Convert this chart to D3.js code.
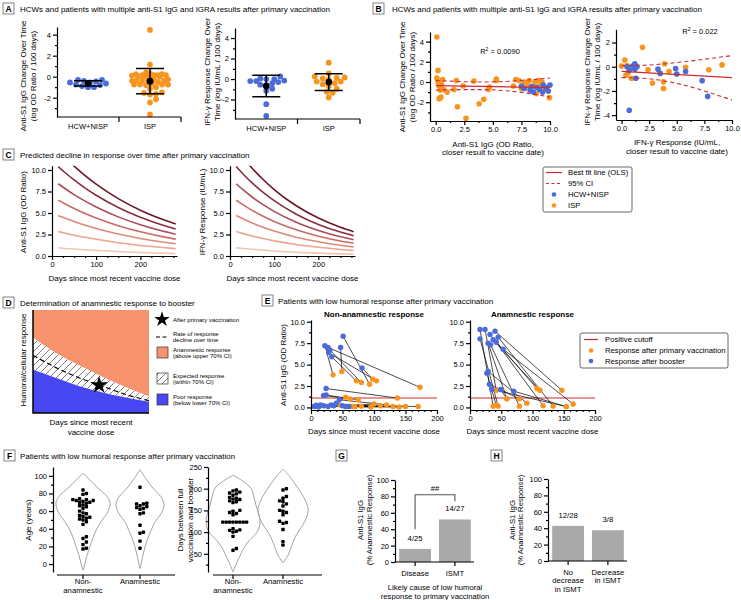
<!DOCTYPE html>
<html><head><meta charset="utf-8">
<script src="https://cdn.jsdelivr.net/npm/d3@7"></script>
<style>
body{margin:0;background:#fff;}
svg text{font-family:"Liberation Sans",Arial,Helvetica,sans-serif;fill:#000;}
</style></head><body>
<svg id="fig" width="741" height="600"></svg>
<script>
// ================= DATA =================
const groupsA = ["HCW+NISP", "ISP"];
// Panel B1 : anti-S1 IgG (OD ratio) vs change over time (log OD ratio / 100 days)
const b1HcwX = [7.5, 7.75, 8.25, 8.4, 8.55, 8.85, 9.1, 9.4, 9.65, 9.85, 10.0, 9.35];
const b1HcwY = [-0.4, -0.65, -0.8, -0.45, -1.0, -0.55, -0.75, -0.3, -0.55, -0.9, -0.3, -1.0];
const b1IspX = [0.1, 0.2, 0.1, 0.2, 0.3, 0.4, 0.3, 0.45, 0.6, 0.7, 0.5, 1.0, 1.6, 1.8, 1.9, 2.4, 2.65, 3.35, 3.8, 4.2, 4.6, 4.7, 5.3, 5.3, 6.8, 7.0, 7.3, 7.5, 7.75, 8.0, 8.2, 8.55, 8.7, 9.0, 9.1, 9.3, 9.6, 9.95, 8.8];
const b1IspY = [4.45, 1.15, 0.4, 0.0, -0.4, -0.8, -1.65, -1.5, 0.25, -0.75, -0.25, -1.0, -0.75, 0.15, -2.45, -0.4, -3.6, 0.1, -2.15, -1.7, -0.75, -0.5, 0.3, 0.15, -0.4, 0.25, 0.15, -0.65, 0.0, -0.3, 0.15, -0.4, 0.0, 0.15, -0.4, 0.0, -0.75, -1.55, -1.15];
const b1FitX = [0, 10], b1FitY = [-0.35, -0.55];
const ciX = [0, 2, 4, 6, 8, 10];
const b1CiUp = [0.15, 0.05, 0.0, 0.05, 0.2, 0.4];
const b1CiLo = [-0.8, -0.75, -0.75, -0.85, -1.1, -1.5];
const b1R2 = "0.0090";
// Panel B2 : IFN-γ response vs change over time (log IU/mL / 100 days)
const b2HcwX = [0.5, 0.7, 1.0, 1.2, 1.2, 1.4, 1.3, 0.7, 3.3, 3.5, 4.9, 5.0, 5.8, 7.3, 7.8];
const b2HcwY = [0.0, -0.3, 0.05, -0.2, 0.25, 0.0, -0.95, -3.6, -0.2, -0.55, -0.15, -0.6, -0.4, -1.15, -2.45];
const b2IspX = [0.0, 0.3, 0.6, 0.4, 0.9, 1.9, 2.4, 2.8, 3.8, 3.8, 3.9, 4.3, 5.8, 7.9, 9.1, 0.5];
const b2IspY = [0.05, 0.55, -0.5, -0.7, -0.95, 1.6, -0.25, -1.35, -1.25, -1.8, 0.25, -0.4, -0.05, -0.25, 0.15, 0.1];
const b2FitX = [0, 10], b2FitY = [-0.38, -0.9];
const b2CiUp = [0.1, 0.12, 0.25, 0.45, 0.68, 0.92];
const b2CiLo = [-0.9, -0.95, -1.2, -1.6, -2.15, -2.75];
const b2R2 = "0.022";
// Panel C : predicted decline curves (value at each day)
const cDays = [14, 30, 50, 75, 100, 150, 200, 250, 280];
const cIgG = [
  [0.95, 0.88, 0.81, 0.72, 0.65, 0.52, 0.41, 0.33, 0.29],
  [2.85, 2.65, 2.42, 2.17, 1.94, 1.54, 1.23, 0.99, 0.86],
  [4.70, 4.38, 4.00, 3.57, 3.19, 2.55, 2.04, 1.63, 1.42],
  [6.50, 6.05, 5.53, 4.94, 4.41, 3.52, 2.81, 2.25, 1.96],
  [8.40, 7.82, 7.14, 6.38, 5.70, 4.55, 3.64, 2.91, 2.54],
  [10.40, 9.68, 8.84, 7.90, 7.06, 5.64, 4.50, 3.60, 3.14],
  [12.30, 11.45, 10.46, 9.35, 8.35, 6.67, 5.33, 4.26, 3.71]
];
const cIfn = [
  [0.95, 0.87, 0.78, 0.68, 0.59, 0.44, 0.34, 0.25, 0.21],
  [2.85, 2.60, 2.33, 2.03, 1.76, 1.33, 1.01, 0.76, 0.64],
  [4.70, 4.30, 3.84, 3.34, 2.90, 2.19, 1.66, 1.25, 1.06],
  [6.50, 5.94, 5.31, 4.62, 4.02, 3.04, 2.29, 1.74, 1.47],
  [8.40, 7.68, 6.86, 5.97, 5.19, 3.92, 2.97, 2.24, 1.90],
  [10.40, 9.51, 8.50, 7.39, 6.43, 4.86, 3.67, 2.78, 2.35],
  [12.50, 11.43, 10.21, 8.89, 7.73, 5.84, 4.41, 3.34, 2.83]
];
const cColors = ["#f3c6b1", "#eda58d", "#e08878", "#cb6a66", "#ad4b56", "#8a2d3e", "#6a1828"];
// Panel D : schematic (unitless)
const dX = [0, 20, 40, 60, 80, 100];
const dUpper = [73, 58, 46, 35, 25, 16];
const dMid = [56, 44, 34, 26, 18, 12];
const dLower = [42, 34, 26, 20, 15, 11];
const dStar = [57, 27];
// Panel E : pairs (booster day/value -> primary day/value)
const eNonBoostDay = [22, 27, 28, 33, 30, 47, 51, 81, 24, 20, 24, 5, 10, 15, 20, 27, 32, 36, 40, 45, 50, 55, 12, 60, 8];
const eNonBoostVal = [7.2, 7.0, 6.4, 5.9, 6.7, 7.0, 8.3, 4.6, 2.2, 1.4, 1.45, 0.1, 0.2, 0.3, 0.2, 0.1, 0.3, 0.2, 0.5, 0.9, 0.2, 0.1, 0.05, 0.1, 0.25];
const eNonPrimDay = [35, 173, 104, 72, 80, 49, 93, 98, 137, 75, 62, 45, 60, 110, 80, 150, 170, 95, 55, 120, 65, 130, 100, 140, 70];
const eNonPrimVal = [3.8, 2.35, 3.1, 3.1, 2.9, 4.2, 2.7, 3.3, 1.1, 0.9, 1.0, 0.3, 0.1, 0.2, 0.15, 0.1, 0.1, 0.05, 1.2, 0.3, 0.1, 0.1, 0.4, 0.05, 0.1];
const eAnBoostDay = [16, 24, 16, 32, 40, 37, 45, 42, 29, 33, 53, 27, 29, 31, 35, 49, 70];
const eAnBoostVal = [9.1, 9.1, 8.0, 8.5, 8.9, 7.9, 8.2, 7.6, 7.5, 7.3, 6.8, 4.0, 4.2, 2.7, 2.1, 2.1, 1.9];
const eAnPrimDay = [37, 42, 45, 107, 147, 112, 133, 117, 59, 79, 165, 42, 91, 79, 154, 59, 154];
const eAnPrimVal = [0.15, 2.0, 0.15, 2.2, 2.0, 2.0, 0.15, 0.2, 1.0, 0.15, 0.4, 0.25, 0.5, 1.0, 0.1, 1.0, 0.1];
const eCutoff = 1.1;
// Panel F
const fGroups = ["Non-anamnestic", "Anamnestic"];
const fNonAge = [84, 80, 79, 74, 73, 73, 72, 72, 71, 70, 70, 69, 67, 66, 65, 63, 60, 58, 57, 55, 54, 53, 52, 51, 50, 48, 45, 31, 29, 25, 22, 18, 17];
const fAnAge = [87, 69, 68, 68, 66, 65, 64, 63, 62, 58, 57, 44, 36, 35, 26, 18];
const fNonDays = [197, 195, 192, 190, 188, 185, 180, 178, 176, 175, 172, 170, 168, 150, 148, 145, 143, 140, 123, 123, 123, 123, 123, 123, 123, 123, 108, 105, 104, 102, 100, 90, 62, 58];
const fAnDays = [200, 197, 182, 178, 172, 170, 165, 160, 150, 148, 145, 140, 125, 122, 120, 106, 78, 70];
const vNonAgeV = [103, 95, 86, 78, 70, 60, 48, 38, 30, 20, 10, 0, -7];
const vNonAgeD = [0, .26, .56, .85, 1, .93, .67, .48, .37, .26, .15, .07, 0];
const vAnAgeV = [107, 98, 86, 76, 67, 57, 48, 38, 30, 20, 10, 0, -5];
const vAnAgeD = [0, .19, .48, .78, .89, .78, .56, .41, .30, .19, .11, .04, 0];
const vNonDaysV = [231, 220, 201, 180, 162, 140, 120, 100, 80, 60, 45, 25, 8];
const vNonDaysD = [0, .30, .67, .78, .85, .96, 1, .89, .59, .37, .26, .11, 0];
const vAnDaysV = [245, 230, 201, 175, 150, 125, 100, 87, 65, 47, 29];
const vAnDaysD = [0, .22, .56, .81, .93, .81, .56, .44, .30, .19, 0];
// Panel G / H
const gCats = ["Disease", "ISMT"], gVals = [16, 51.85], gLabels = ["4/25", "14/27"];
const hCats = ["No decrease in ISMT", "Decrease in ISMT"], hVals = [42.86, 37.5], hLabels = ["12/28", "3/8"];

// ================= HELPERS =================
const svg = d3.select("#fig");
const BLUE = "#4a6bd8", ORANGE = "#f7941d", RED = "#cf2a2f";
const defs = svg.append("defs");
const hatch = defs.append("pattern").attr("id", "hatch").attr("patternUnits", "userSpaceOnUse").attr("width", 7).attr("height", 7);
hatch.append("rect").attr("width", 7).attr("height", 7).attr("fill", "#fff");
hatch.append("path").attr("d", "M0,7 L7,0 M-1,1 L1,-1 M6,8 L8,6").attr("stroke", "#222").attr("stroke-width", 0.6);

function txt(g, x, y, s, o = {}) {
  const t = g.append("text").attr("x", x).attr("y", y).text(s)
    .attr("font-size", o.size || 8).attr("text-anchor", o.anchor || "start");
  if (o.weight) t.attr("font-weight", o.weight);
  return t;
}
function multi(g, x, y, lines, lh, o = {}) {
  const t = g.append("text").attr("font-size", o.size || 8).attr("text-anchor", o.anchor || "middle");
  if (o.rotate) t.attr("transform", `translate(${x},${y}) rotate(-90)`);
  else t.attr("transform", `translate(${x},${y})`);
  lines.forEach((l, i) => t.append("tspan").attr("x", 0).attr("dy", i ? lh : 0).text(l));
  return t;
}
function panelLabel(letter, x, y, title, tx) {
  svg.append("rect").attr("x", x).attr("y", y).attr("width", 11).attr("height", 11)
    .attr("fill", "#fff").attr("stroke", "#777").attr("stroke-width", 0.9);
  txt(svg, x + 5.5, y + 8.8, letter, { anchor: "middle", weight: "bold", size: 8.5 });
  if (title) txt(svg, tx, y + 8.5, title, { size: 8 });
}
function styleAxis(a) {
  a.selectAll(".domain, line").attr("stroke", "#000").attr("stroke-width", 1.2);
  a.selectAll("text").attr("font-size", 7.5).attr("fill", "#000");
}
function leftAxis(g, scale, x, major, minor, fmt) {
  const a = g.append("g").attr("transform", `translate(${x},0)`)
    .call(d3.axisLeft(scale).tickValues(major).tickFormat(fmt).tickSize(4).tickSizeOuter(0).tickPadding(2));
  styleAxis(a);
  if (minor) {
    const m = g.append("g").attr("transform", `translate(${x},0)`)
      .call(d3.axisLeft(scale).tickValues(minor).tickFormat("").tickSize(2).tickSizeOuter(0));
    m.select(".domain").remove(); styleAxis(m);
  }
  return a;
}
function bottomAxis(g, scale, y, major, minor, fmt) {
  const a = g.append("g").attr("transform", `translate(0,${y})`)
    .call(d3.axisBottom(scale).tickValues(major).tickFormat(fmt).tickSize(4).tickSizeOuter(0).tickPadding(2));
  styleAxis(a);
  if (minor) {
    const m = g.append("g").attr("transform", `translate(0,${y})`)
      .call(d3.axisBottom(scale).tickValues(minor).tickFormat("").tickSize(2).tickSizeOuter(0));
    m.select(".domain").remove(); styleAxis(m);
  }
  return a;
}
// deterministic beeswarm, limited to +-maxOff pixels
function swarm(vals, ys, r, step, maxOff) {
  const idx = d3.range(vals.length).sort((a, b) => vals[a] - vals[b]);
  const placed = [], off = new Array(vals.length);
  const cands = [0];
  for (let k = 1; k * step <= maxOff; k++) cands.push(k * step, -k * step);
  const thr = (2 * r) * 0.9;
  for (const i of idx) {
    const py = ys(vals[i]);
    let best = 0, bestD = -1;
    for (const o of cands) {
      const md = placed.length ? d3.min(placed, p => Math.hypot(p.x - o, p.y - py)) : Infinity;
      if (md >= thr) { best = o; bestD = Infinity; break; }
      if (md > bestD) { bestD = md; best = o; }
    }
    placed.push({ x: best, y: py }); off[i] = best;
  }
  return off;
}
const hy = v => String(v);

// ================= PANEL A =================
panelLabel("A", 3, 3, "HCWs and patients with multiple anti-S1 IgG and IGRA results after primary vaccination", 20);
function drawA(cfg) {
  const g = svg.append("g");
  const x = d3.scaleBand().domain(groupsA).range(cfg.xr);
  const y = d3.scaleLinear().domain(cfg.yd).range(cfg.yr);
  const series = [cfg.hcw, cfg.isp], cols = [BLUE, ORANGE];
  series.forEach((vals, gi) => {
    const cx = x(groupsA[gi]) + x.bandwidth() / 2;
    const off = swarm(vals, y, 2.9, 2, 18);
    g.selectAll(null).data(vals).enter().append("circle")
      .attr("cx", (d, i) => cx + off[i]).attr("cy", d => y(d)).attr("r", 2.9).attr("fill", cols[gi]);
    const m = d3.mean(vals), sd = d3.deviation(vals);
    const w = 14;
    g.append("path").attr("d", `M${cx},${y(m + sd)}V${y(m - sd)}M${cx - w},${y(m + sd)}H${cx + w}M${cx - w},${y(m - sd)}H${cx + w}`)
      .attr("stroke", "#000").attr("stroke-width", 1.5).attr("fill", "none");
    g.append("circle").attr("cx", cx).attr("cy", y(m)).attr("r", 3.4).attr("fill", "#000");
  });
  leftAxis(g, y, cfg.xr[0], cfg.major, cfg.minor, hy);
  const by = cfg.yr[0];
  g.append("path").attr("d", `M${cfg.xr[0]},${by}H${cfg.xr[1]}M${x(groupsA[1])},${by}v5M${cfg.xr[1]},${by}v5`)
    .attr("stroke", "#000").attr("stroke-width", 1.2).attr("fill", "none");
  groupsA.forEach(c => txt(g, x(c) + x.bandwidth() / 2, by + 11.5, c, { anchor: "middle", size: 7.5 }));
  multi(g, cfg.lx, cfg.ly, cfg.label, 10, { rotate: true });
}
drawA({ xr: [57, 181], yd: [-3.84, 4.73], yr: [117, 27], major: [-2, 0, 2, 4], minor: [-3, -1, 1, 3],
  hcw: b1HcwY, isp: b1IspY, lx: 26, ly: 76, label: ["Anti-S1 IgG Change Over Time", "(log OD Ratio / 100 days)"] });
drawA({ xr: [235, 360], yd: [-3.9, 4.98], yr: [119, 28], major: [-2, 0, 2, 4], minor: [-3, -1, 1, 3],
  hcw: b2HcwY, isp: b2IspY, lx: 210, ly: 72, label: ["IFN-γ Response Change Over", "Time (log IU/mL / 100 days)"] });

// ================= PANEL B =================
panelLabel("B", 373, 3, "HCWs and patients with multiple anti-S1 IgG and IGRA results after primary vaccination", 392);
function drawB(cfg) {
  const g = svg.append("g");
  const x = d3.scaleLinear().domain([-0.5, 10]).range(cfg.xr);
  const y = d3.scaleLinear().domain(cfg.yd).range(cfg.yr);
  g.selectAll(null).data(cfg.ispX).enter().append("circle")
    .attr("cx", d => x(d)).attr("cy", (d, i) => y(cfg.ispY[i])).attr("r", 2.8).attr("fill", ORANGE);
  g.selectAll(null).data(cfg.hcwX).enter().append("circle")
    .attr("cx", d => x(d)).attr("cy", (d, i) => y(cfg.hcwY[i])).attr("r", 2.8).attr("fill", BLUE);
  const ln = d3.line().x(d => x(d[0])).y(d => y(d[1])).curve(d3.curveMonotoneX);
  g.append("path").attr("d", ln(cfg.fitX.map((v, i) => [v, cfg.fitY[i]]))).attr("stroke", RED).attr("stroke-width", 1.3).attr("fill", "none");
  [cfg.up, cfg.lo].forEach(arr => g.append("path").attr("d", ln(ciX.map((v, i) => [v, arr[i]])))
    .attr("stroke", RED).attr("stroke-width", 1.1).attr("stroke-dasharray", "4,3").attr("fill", "none"));
  leftAxis(g, y, cfg.xr[0], cfg.major, cfg.minor, hy);
  bottomAxis(g, x, cfg.yr[0], [0, 2.5, 5, 7.5, 10], [1.25, 3.75, 6.25, 8.75], d3.format(".1f"));
  const t = g.append("text").attr("x", cfg.r2x).attr("y", cfg.r2y).attr("font-size", 7.5).attr("text-anchor", "middle");
  t.append("tspan").text("R");
  t.append("tspan").attr("dy", -3).attr("font-size", 5).text("2");
  t.append("tspan").attr("dy", 3).text(" = " + cfg.r2);
  multi(g, cfg.lx, cfg.ly, cfg.label, 10, { rotate: true });
  multi(g, (cfg.xr[0] + cfg.xr[1]) / 2 + 3, cfg.xly, cfg.xlabel, 8.7);
}
drawB({ xr: [430, 550], yd: [-3.86, 4.95], yr: [121, 32], major: [-2, 0, 2, 4], minor: [-3, -1, 1, 3],
  hcwX: b1HcwX, hcwY: b1HcwY, ispX: b1IspX, ispY: b1IspY, fitX: b1FitX, fitY: b1FitY, up: b1CiUp, lo: b1CiLo,
  r2: b1R2, r2x: 500, r2y: 54, lx: 405, ly: 77, label: ["Anti-S1 IgG Change Over Time", "(log OD Ratio / 100 days)"],
  xly: 146.5, xlabel: ["Anti-S1 IgG (OD Ratio,", "closer result to vaccine date)"] });
drawB({ xr: [616, 732], yd: [-4.4, 3.09], yr: [120, 29.3], major: [-4, -2, 0, 2], minor: [-3, -1, 1],
  hcwX: b2HcwX, hcwY: b2HcwY, ispX: b2IspX, ispY: b2IspY, fitX: b2FitX, fitY: b2FitY, up: b2CiUp, lo: b2CiLo,
  r2: b2R2, r2x: 700, r2y: 34, lx: 590, ly: 72, label: ["IFN-γ Response Change Over", "Time (log IU/mL / 100 days)"],
  xly: 145, xlabel: ["IFN-γ Response (IU/mL,", "closer result to vaccine date)"] });

// Legend B/C
(function () {
  const g = svg.append("g");
  g.append("rect").attr("x", 543).attr("y", 167).attr("width", 89).attr("height", 45).attr("rx", 2)
    .attr("fill", "#fff").attr("stroke", "#555").attr("stroke-width", 0.9);
  const items = ["Best fit line (OLS)", "95% CI", "HCW+NISP", "ISP"];
  items.forEach((s, i) => {
    const yy = 172.5 + i * 11;
    if (i < 2) g.append("line").attr("x1", 546).attr("x2", 562).attr("y1", yy).attr("y2", yy).attr("stroke", RED)
      .attr("stroke-width", 1.2).attr("stroke-dasharray", i ? "3,2.5" : null);
    else g.append("circle").attr("cx", 554).attr("cy", yy).attr("r", 2.3).attr("fill", i === 2 ? BLUE : ORANGE);
    txt(g, 568, yy + 2.8, s, { size: 7.7 });
  });
})();

// ================= PANEL C =================
panelLabel("C", 3, 149, "Predicted decline in response over time after primary vaccination", 20);
function drawC(cfg) {
  const g = svg.append("g");
  const x = d3.scaleLinear().domain([0, 283]).range(cfg.xr);
  const y = d3.scaleLinear().domain([0, 10.5]).range([256, 165.7]);
  defs.append("clipPath").attr("id", cfg.id).append("rect").attr("x", cfg.xr[0]).attr("y", 165.7)
    .attr("width", cfg.xr[1] - cfg.xr[0]).attr("height", 256 - 165.7);
  const ln = d3.line().x((d, i) => x(cDays[i])).y(d => y(d)).curve(d3.curveMonotoneX);
  cfg.curves.forEach((c, i) => g.append("path").attr("d", ln(c)).attr("fill", "none")
    .attr("stroke", cColors[i]).attr("stroke-width", 1.6).attr("clip-path", `url(#${cfg.id})`));
  leftAxis(g, y, cfg.xr[0], [0, 2.5, 5, 7.5, 10], null, d3.format(".1f"));
  bottomAxis(g, x, 256, [0, 100, 200], [25, 50, 75, 125, 150, 175, 225, 250, 275], hy);
  txt(g, (cfg.xr[0] + cfg.xr[1]) / 2, 281, "Days since most recent vaccine dose", { anchor: "middle" });
  multi(g, cfg.lx, 212, [cfg.label], 10, { rotate: true });
}
drawC({ id: "c1", xr: [52, 177], curves: cIgG, lx: 26, label: "Anti-S1 IgG (OD Ratio)" });
drawC({ id: "c2", xr: [230, 355], curves: cIfn, lx: 205, label: "IFN-γ Response (IU/mL)" });

// ================= PANEL D =================
panelLabel("D", 3, 297, "Determination of anamnestic response to booster", 20);
(function () {
  const g = svg.append("g");
  const x = d3.scaleLinear().domain([0, 100]).range([33, 149]);
  const y = d3.scaleLinear().domain([0, 100]).range([413, 310]);
  defs.append("clipPath").attr("id", "dclip").append("rect").attr("x", 33).attr("y", 310).attr("width", 116).attr("height", 103);
  const pts = dX.map((v, i) => i);
  const aTop = d3.area().x(i => x(dX[i])).y0(y(100)).y1(i => y(dUpper[i])).curve(d3.curveMonotoneX);
  const aMid = d3.area().x(i => x(dX[i])).y0(i => y(dUpper[i])).y1(i => y(dLower[i])).curve(d3.curveMonotoneX);
  const aBot = d3.area().x(i => x(dX[i])).y0(i => y(dLower[i])).y1(y(0)).curve(d3.curveMonotoneX);
  const c = g.append("g").attr("clip-path", "url(#dclip)");
  c.append("path").attr("d", aTop(pts)).attr("fill", "#f7936f");
  c.append("path").attr("d", aMid(pts)).attr("fill", "url(#hatch)");
  c.append("path").attr("d", aBot(pts)).attr("fill", "#4848f2");
  c.append("path").attr("d", d3.line().x(i => x(dX[i])).y(i => y(dMid[i])).curve(d3.curveMonotoneX)(pts))
    .attr("fill", "none").attr("stroke", "#000").attr("stroke-width", 1.2).attr("stroke-dasharray", "5,3");
  g.append("path").attr("d", d3.symbol(d3.symbolStar).size(95)()).attr("transform", `translate(${x(dStar[0])},${y(dStar[1])})`).attr("fill", "#000");
  g.append("path").attr("d", "M33,310V413H149").attr("stroke", "#000").attr("stroke-width", 1.5).attr("fill", "none");
  multi(g, 26, 360, ["Humoral/cellular response"], 10, { rotate: true });
  multi(g, 91, 425, ["Days since most recent", "vaccine dose"], 10);
  // legend
  const lg = svg.append("g");
  lg.append("path").attr("d", d3.symbol(d3.symbolStar).size(75)()).attr("transform", "translate(162,319.5)");
  txt(lg, 173, 321.5, "After primary vaccination", { size: 6 });
  lg.append("line").attr("x1", 156).attr("x2", 168).attr("y1", 337).attr("y2", 337).attr("stroke", "#000").attr("stroke-width", 1.2).attr("stroke-dasharray", "4,2.5");
  txt(lg, 173, 335.5, "Rate of response", { size: 6 });
  txt(lg, 173, 342, "decline over time", { size: 6 });
  const sq = [[347, "#f7936f", "Anamnestic response", "(above upper 70% CI)"],
              [373, "url(#hatch)", "Expected response", "(within 70% CI)"],
              [394, "#4848f2", "Poor response", "(below lower 70% CI)"]];
  sq.forEach(s => {
    lg.append("rect").attr("x", 157).attr("y", s[0]).attr("width", 11).attr("height", 11).attr("fill", s[1]).attr("stroke", "#333").attr("stroke-width", 0.7);
    txt(lg, 173, s[0] + 4.5, s[2], { size: 6 });
    txt(lg, 173, s[0] + 11, s[3], { size: 6 });
  });
})();

// ================= PANEL E =================
panelLabel("E", 262, 295, "Patients with low humoral response after primary vaccination", 278);
function drawE(cfg) {
  const g = svg.append("g");
  const x = d3.scaleLinear().domain([0, 200]).range(cfg.xr);
  const y = d3.scaleLinear().domain([-0.3, 10.2]).range([410, 320]);
  g.append("line").attr("x1", x(0)).attr("x2", x(200)).attr("y1", y(eCutoff)).attr("y2", y(eCutoff)).attr("stroke", RED).attr("stroke-width", 1.2);
  cfg.bd.forEach((d, i) => g.append("line").attr("x1", x(d)).attr("y1", y(cfg.bv[i])).attr("x2", x(cfg.pd[i])).attr("y2", y(cfg.pv[i]))
    .attr("stroke", "#000").attr("stroke-width", 0.7));
  g.selectAll(null).data(cfg.pd).enter().append("circle").attr("cx", d => x(d)).attr("cy", (d, i) => y(cfg.pv[i])).attr("r", 2.7).attr("fill", ORANGE);
  g.selectAll(null).data(cfg.bd).enter().append("circle").attr("cx", d => x(d)).attr("cy", (d, i) => y(cfg.bv[i])).attr("r", 2.7).attr("fill", BLUE);
  leftAxis(g, y, cfg.xr[0], [0, 2.5, 5, 7.5, 10], [1.25, 3.75, 6.25, 8.75], d3.format(".1f"));
  bottomAxis(g, x, 410, [0, 50, 100, 150, 200], d3.range(10, 200, 10).filter(v => v % 50), hy);
  const cx = (cfg.xr[0] + cfg.xr[1]) / 2;
  txt(g, cx, 317, cfg.title, { anchor: "middle", weight: "bold", size: 8 });
  txt(g, cx, 434, "Days since most recent vaccine dose", { anchor: "middle" });
  if (cfg.ylab) multi(g, 286, 365, ["Anti-S1 IgG (OD Ratio)"], 10, { rotate: true });
}
drawE({ xr: [311, 437], bd: eNonBoostDay, bv: eNonBoostVal, pd: eNonPrimDay, pv: eNonPrimVal, title: "Non-anamnestic response", ylab: true });
drawE({ xr: [470, 595], bd: eAnBoostDay, bv: eAnBoostVal, pd: eAnPrimDay, pv: eAnPrimVal, title: "Anamnestic response" });
(function () {
  const g = svg.append("g");
  g.append("rect").attr("x", 580).attr("y", 333).attr("width", 148).attr("height", 35).attr("rx", 2)
    .attr("fill", "#fff").attr("stroke", "#555").attr("stroke-width", 0.9);
  g.append("line").attr("x1", 584).attr("x2", 598).attr("y1", 339.5).attr("y2", 339.5).attr("stroke", RED).attr("stroke-width", 1.2);
  g.append("circle").attr("cx", 591).attr("cy", 350.5).attr("r", 2.3).attr("fill", ORANGE);
  g.append("circle").attr("cx", 591).attr("cy", 361).attr("r", 2.3).attr("fill", BLUE);
  txt(g, 605, 342.3, "Positive cutoff", { size: 7.7 });
  txt(g, 605, 353.3, "Response after primary vaccination", { size: 7.7 });
  txt(g, 605, 363.8, "Response after booster", { size: 7.7 });
})();

// ================= PANEL F =================
panelLabel("F", 4, 450, "Patients with low humoral response after primary vaccination", 20);
function drawF(cfg) {
  const g = svg.append("g");
  const x = d3.scalePoint().domain(fGroups).range(cfg.cx);
  const y = d3.scaleLinear().domain(cfg.yd).range([572, 467]);
  const wS = d3.scaleLinear().domain([0, 1]).range([0, 27]);
  [[cfg.v1, cfg.d1], [cfg.v2, cfg.d2]].forEach((vd, gi) => {
    const cx = x(fGroups[gi]);
    const pts = vd[0].map((v, i) => ({ v, d: vd[1][i] }));
    const ar = d3.area().y(p => y(p.v)).x0(p => cx - wS(p.d)).x1(p => cx + wS(p.d)).curve(d3.curveCatmullRom);
    g.append("path").attr("d", ar(pts)).attr("fill", "none").attr("stroke", "#a3a3a3").attr("stroke-width", 1);
  });
  [cfg.p1, cfg.p2].forEach((vals, gi) => {
    const cx = x(fGroups[gi]);
    const off = swarm(vals, y, 1.8, 3.4, 20);
    g.selectAll(null).data(vals).enter().append("rect")
      .attr("x", (d, i) => cx + off[i] - 1.7).attr("y", d => y(d) - 1.7).attr("width", 3.4).attr("height", 3.4).attr("rx", 0.8).attr("fill", "#000");
  });
  leftAxis(g, y, cfg.ax, cfg.major, cfg.minor, hy);
  g.append("path").attr("d", `M${cfg.xl[0]},575H${cfg.xl[1]}` + fGroups.map(c => `M${x(c)},575v4`).join(""))
    .attr("stroke", "#000").attr("stroke-width", 1.2).attr("fill", "none");
  multi(g, x(fGroups[0]), 583.5, ["Non-", "anamnestic"], 9, { size: 7.7 });
  multi(g, x(fGroups[1]), 583.5, ["Anamnestic"], 9, { size: 7.7 });
  multi(g, cfg.lx, 520, cfg.label, 10, { rotate: true });
}
drawF({ cx: [83, 140], yd: [-9, 110], ax: 53, xl: [57, 175], major: [0, 20, 40, 60, 80, 100], minor: [10, 30, 50, 70, 90],
  v1: vNonAgeV, d1: vNonAgeD, v2: vAnAgeV, d2: vAnAgeD, p1: fNonAge, p2: fAnAge, lx: 31, label: ["Age (years)"] });
drawF({ cx: [233, 283], yd: [8, 250], ax: 208, xl: [213, 322], major: [50, 100, 150, 200, 250], minor: [25, 75, 125, 175, 225],
  v1: vNonDaysV, d1: vNonDaysD, v2: vAnDaysV, d2: vAnDaysD, p1: fNonDays, p2: fAnDays, lx: 183, label: ["Days between full", "vaccination and booster"] });

// ================= PANEL G / H =================
function drawBars(cfg) {
  const g = svg.append("g");
  const x = d3.scaleBand().domain(cfg.cats).range(cfg.xr).paddingInner(0.2).paddingOuter(0.08);
  const y = d3.scaleLinear().domain([0, 100]).range(cfg.yr);
  g.selectAll(null).data(cfg.vals).enter().append("rect")
    .attr("x", (d, i) => x(cfg.cats[i])).attr("y", d => y(d)).attr("width", x.bandwidth()).attr("height", d => y(0) - y(d)).attr("fill", "#a9a9a9");
  cfg.vals.forEach((v, i) => txt(g, x(cfg.cats[i]) + x.bandwidth() / 2, y(v) - 8, cfg.labels[i], { anchor: "middle", size: 7.7 }));
  leftAxis(g, y, cfg.xr[0] - 1, [0, 20, 40, 60, 80, 100], [10, 30, 50, 70, 90], hy);
  g.append("path").attr("d", `M${cfg.xr[0] - 1},${y(0)}H${cfg.xr[1]}` + cfg.cats.map(c => `M${x(c) + x.bandwidth() / 2},${y(0)}v4`).join(""))
    .attr("stroke", "#000").attr("stroke-width", 1.2).attr("fill", "none");
  cfg.cats.forEach((c, i) => multi(g, x(c) + x.bandwidth() / 2, y(0) + 13.5, cfg.tick[i], 8.6, { size: 7.7 }));
  multi(g, cfg.lx, 520, ["Anti-S1 IgG", "(% Anamnestic Response)"], 8.5, { rotate: true, size: 7.7 });
  return { g, x, y };
}
panelLabel("G", 336, 450, null, 0);
const G = drawBars({ cats: gCats, vals: gVals, labels: gLabels, xr: [396, 474], yr: [562, 480], lx: 363,
  tick: [["Disease"], ["ISMT"]] });
(function () {
  const { g, x, y } = G;
  const x1 = x(gCats[0]) + x.bandwidth() / 2, x2 = x(gCats[1]) + x.bandwidth() / 2;
  g.append("path").attr("d", `M${x1},${y(40)}V${y(82)}H${x2}V${y(74)}`).attr("stroke", "#555").attr("stroke-width", 1.1).attr("fill", "none");
  txt(g, (x1 + x2) / 2, y(86), "##", { anchor: "middle", size: 7.5 });
  multi(g, 435, 589.5, ["Likely cause of low humoral", "response to primary vaccination"], 9, { size: 7.7 });
})();
panelLabel("H", 491, 450, null, 0);
drawBars({ cats: hCats, vals: hVals, labels: hLabels, xr: [549, 627], yr: [561, 479], lx: 514.5,
  tick: [["No", "decrease", "in ISMT"], ["Decrease", "in ISMT"]] });
</script>
</body></html>
